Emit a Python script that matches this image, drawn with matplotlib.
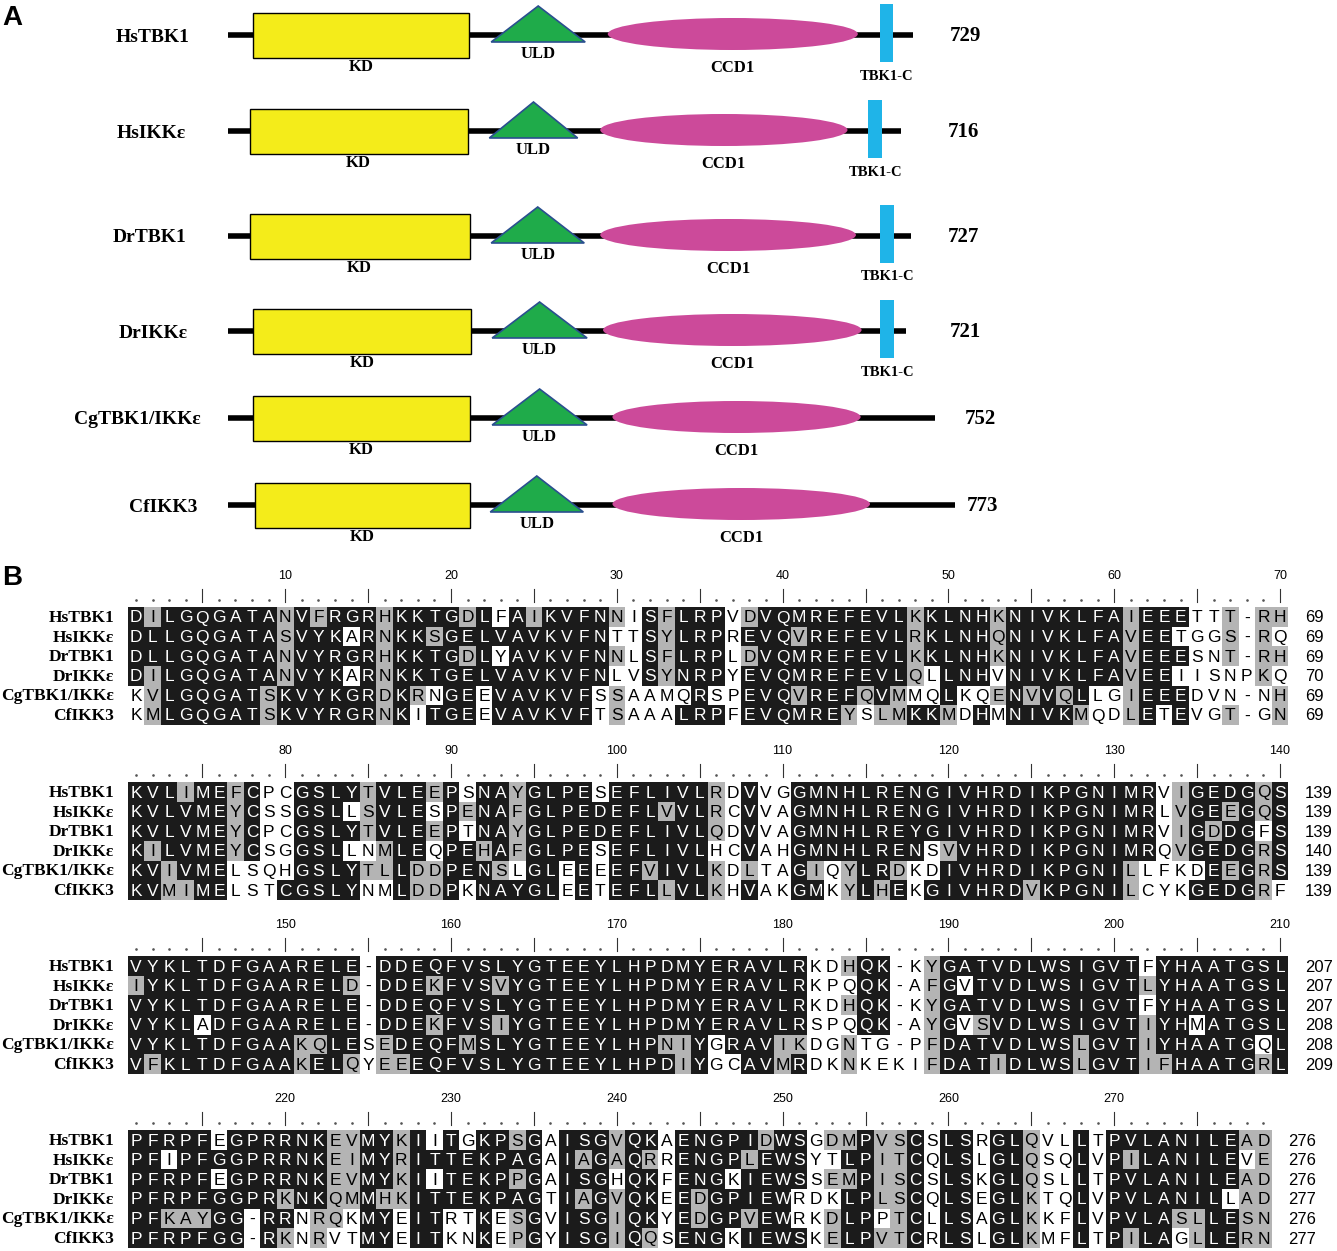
import matplotlib
matplotlib.use("Agg")
import matplotlib.pyplot as plt
from matplotlib.patches import Rectangle, Ellipse, Polygon

W, H = 1337, 1251

# ---------------- panel A : domain structure (residue positions) ----------------
proteins = ["HsTBK1", "HsIKKε", "DrTBK1", "DrIKKε", "CgTBK1/IKKε", "CfIKK3"]
lengths = [729, 716, 727, 721, 752, 773]
kd = [(27, 256), (23, 255), (23, 257), (27, 259), (27, 257), (29, 257)]
uld = [(280, 380), (278, 372), (280, 379), (281, 382), (281, 382), (279, 378)]
ccd1 = [(404, 670), (396, 659), (396, 668), (399, 674), (409, 673), (409, 683)]
tbk1c = [(694, 707), (681, 696), (694, 709), (694, 709), None, None]

# ---------------- panel B : alignment ----------------
seq_names = ["HsTBK1", "HsIKKε", "DrTBK1", "DrIKKε", "CgTBK1/IKKε", "CfIKK3"]
block_starts = [1, 71, 141, 211]

seq1 = ["DILGQGATANVFRGRHKKTGDLFAIKVFNNISFLRPVDVQMREFEVLKKLNHKNIVKLFAIEEETTT-RH",
        "DLLGQGATASVYKARNKKSGELVAVKVFNTTSYLRPREVQVREFEVLRKLNHQNIVKLFAVEETGGS-RQ",
        "DLLGQGATANVYRGRHKKTGDLYAVKVFNNLSFLRPLDVQMREFEVLKKLNHKNIVKLFAVEEESNT-RH",
        "DILGQGATANVYKARNKKTGELVAVKVFNLVSYNRPYEVQMREFEVLQLLNHVNIVKLFAVEEIISNPKQ",
        "KVLGQGATSKVYKGRDKRNGEEVAVKVFSSAAMQRSPEVQVREFQVMMQLKQENVVQLLGIEEEDVN-NH",
        "KMLGQGATSKVYRGRNKITGEEVAVKVFTSAAALRPFEVQMREYSLMKKMDHMNIVKMQDLETEVGT-GN"]
seq2 = ["KVLIMEFCPCGSLYTVLEEPSNAYGLPESEFLIVLRDVVGGMNHLRENGIVHRDIKPGNIMRVIGEDGQS",
        "KVLVMEYCSSGSLLSVLESPENAFGLPEDEFLVVLRCVVAGMNHLRENGIVHRDIKPGNIMRLVGEEGQS",
        "KVLVMEYCPCGSLYTVLEEPTNAYGLPEDEFLIVLQDVVAGMNHLREYGIVHRDIKPGNIMRVIGDDGFS",
        "KILVMEYCSGGSLLNMLEQPEHAFGLPESEFLIVLHCVAHGMNHLRENSVVHRDIKPGNIMRQVGEDGRS",
        "KVIVMELSQHGSLYTLLDDPENSLGLEEEEFVIVLKDLTAGIQYLRDKDIVHRDIKPGNILLFKDEEGRS",
        "KVMIMELSTCGSLYNMLDDPKNAYGLEETEFLLVLKHVAKGMKYLHEKGIVHRDVKPGNILCYKGEDGRF"]
seq3 = ["VYKLTDFGAARELE-DDEQFVSLYGTEEYLHPDMYERAVLRKDHQK-KYGATVDLWSIGVTFYHAATGSL",
        "IYKLTDFGAARELD-DDEKFVSVYGTEEYLHPDMYERAVLRKPQQK-AFGVTVDLWSIGVTLYHAATGSL",
        "VYKLTDFGAARELE-DDEQFVSLYGTEEYLHPDMYERAVLRKDHQK-KYGATVDLWSIGVTFYHAATGSL",
        "VYKLADFGAARELE-DDEKFVSIYGTEEYLHPDMYERAVLRSPQQK-AYGVSVDLWSIGVTIYHMATGSL",
        "VYKLTDFGAAKQLESEDEQFMSLYGTEEYLHPNIYGRAVIKDGNTG-PFDATVDLWSLGVTIYHAATGQL",
        "VFKLTDFGAAKELQYEEEQFVSLYGTEEYLHPDIYGCAVMRDKNKEKIFDATIDLWSLGVTIFHAATGRL"]
seq4 = ["PFRPFEGPRRNKEVMYKIITGKPSGAISGVQKAENGPIDWSGDMPVSCSLSRGLQVLLTPVLANILEAD",
        "PFIPFGGPRRNKEIMYRITTEKPAGAIAGAQRRENGPLEWSYTLPITCQLSLGLQSQLVPILANILEVE",
        "PFRPFEGPRRNKEVMYKIITEKPPGAISGHQKFENGKIEWSSEMPISCSLSKGLQSLLTPVLANILEAD",
        "PFRPFGGPRKNKQMMHKITTEKPAGTIAGVQKEEDGPIEWRDKLPLSCQLSEGLKTQLVPVLANILLAD",
        "PFKAYGG-RRNRQKMYEITRTKESGVISGIQKYEDGPVEWRKDLPPTCLLSAGLKKFLVPVLASLLESN",
        "PFRPFGG-RKNRVTMYEITKNKEPGYISGIQQSENGKIEWSKELPVTCRLSLGLKMFLTPILAGLLERN"]

# B = identical (black), G = similar (grey), W = unshaded
shade1 = ["BGBBBBBBBGBGBBBGBBBBGBWBGBBBBGWBGBBBWGBBBBBBBBBGBBBBGBBBBBBBGBBBWWGWGG",
          "BBBBBBBBBGBBBWBGBBGBBBBBBBBBBWWBGBBBWBBBGBBBBBBGBBBBGBBBBBBBGBBWWWGWGW",
          "BBBBBBBBBGBBBBBGBBBBGBWBBBBBBGWBGBBBWGBBBBBBBBBGBBBBGBBBBBBBGBBBWWGWGG",
          "BGBBBBBBBGBBBWBGBBBBBBBBBBBBBWWBGBBBWBBBBBBBBBBGWBBBWBBBBBBBGBBWWWWWGW",
          "WGBBBBBBGBBBBBBGBGWBBWBBBBBBWGWWWWBWWBBBGBBBGBGWWBWWGBGBGBWWGBBBWWWWWG",
          "WGBBBBBBGBBBBBBGBWBBBWBBBBBBWGWWWBBBWBBBBBBGWGGBBGWBWBBBBGWWGBWBWWGWWG"]
shade2 = ["BBBGBBGBWWBBBBGBBBGBWBBGBBBBWBBBBBBGWBWWBBBBBBBBBBBBBBBBBBBBBBWGBBBBGB",
          "BBBBBBGBWWBBBWGBBBWBGBBGBBBBBBBBGBBGWBWWBBBBBBBBBBBBBBBBBBBBBBWGBBGBGB",
          "BBBBBBGBWWBBBBGBBBGBWBBGBBBBBBBBBBBGWBWWBBBBBBBBBBBBBBBBBBBBBBWGBGBBWB",
          "BGBBBBGBWWBBBWWGBBWBBGBGBBBBWBBBBBBWWBWWBBBBBBBBWGBBBBBBBBBBBBWGBBBBGB",
          "BBGBBBWWWWBBBBGGBGGBBBGWBBWBWBBGBBBGWGWWBGWGBBGWWBBBBBBBBBBBGWWWWBGBGB",
          "BBGGBBWWWBBBBBWWBGGBWBBBBBWBWBBBGBBGWBWWBBWGBGBWBBBBBBGBBBBBGWWWBBBBGW"]
shade3 = ["BBBBBBBBBBBBBBWBBBBBBBBBBBBBBBBBBBBBBBBBBWWGBBWWGBBBBBBBBBBBBWBBBBBBBB",
          "GBBBBBBBBBBBBGWBBBGBBBGBBBBBBBBBBBBBBBBBBWWWBBWWGBWBBBBBBBBBBGBBBBBBBB",
          "BBBBBBBBBBBBBBWBBBBBBBBBBBBBBBBBBBBBBBBBBWWGBBWWGBBBBBBBBBBBBWBBBBBBBB",
          "BBBBWBBBBBBBBBWBBBGBBBGBBBBBBBBBBBBBBBBBBWWWBBWWGBWGBBBBBBBBBGBBWBBBBB",
          "BBBBBBBBBBGGBBWGBBBBGBBBBBBBBBBBGGBWBBBGGWWGWWWWGBBBBBBBBGBBBGBBBBBBWB",
          "BGBBBBBBBBGBBGWGGBBBBBBBBBBBBBBBBGBWWBBGBWWGWWWWGBBBGBBBBGBBBGGBBBBBGB"]
shade4 = ["BBBBBWBBBBBBGGBBGBWBWBBGBWBBBGBBWBBBBBGBBWGGBGGBWBBWBBGWWBWBBBBBBBBGG",
          "BBWBBBBBBBBBGGBBGBBBBBBBBWBGBGBGWBBBBGBBBWWBBGGBWBBWBBGWWBWBGBBBBBBWG",
          "BBBBBWBBBBBBGGBBGBWBBBBGBWBBBWBBWBBBWBBBBWGGBGGBWBBWBBGWWBWBBBBBBBBGG",
          "BBBBBBBBBGBBGGBGGBBBBBBBBWBGBGBBWBGBBBBBWWWBBGGBWBBWBBGWWBWBBBBBBBWGG",
          "BBGGGBBWBBWGGWBBWBBWWBWGBWBBBGBBWBGBBGBBWWGBBWGBWBBWBBGWWBWBBBBGGBBGG",
          "BBBBBBBWBGWGWWBBWBBWWBWGBWBBBGBGWBBBWBBBBWGBBGGBWBBWBBGWWBWBGBBWGBBGG"]

ends1 = [69, 69, 69, 70, 69, 69]
ends2 = [139, 139, 139, 140, 139, 139]
ends3 = [207, 207, 207, 208, 208, 209]
ends4 = [276, 276, 276, 277, 276, 277]

seq_blocks = [seq1, seq2, seq3, seq4]
shade_blocks = [shade1, shade2, shade3, shade4]
end_blocks = [ends1, ends2, ends3, ends4]

# ---------------- figure ----------------
fig = plt.figure(figsize=(W / 100, H / 100), dpi=100)
serif = "Liberation Serif"
sans = "Liberation Sans"

# panel A axes: x in residues, y in pixels
x0_px, px_per_aa = 228, 0.94
axA = fig.add_axes([0, 0, 1, 1])
axA.set_xlim(-x0_px / px_per_aa, (W - x0_px) / px_per_aa)
axA.set_ylim(H, 0)
axA.axis("off")


def px2aa(px):
    return (px - x0_px) / px_per_aa


row_y = [35, 131, 236, 331, 418, 505]
name_x = [153, 151, 150, 153, 137, 163]
num_x = [965, 963, 963, 965, 980, 983]
yellow, green, magenta, cyan = "#f4ec1a", "#1fab4a", "#cc4a9a", "#1fb4e8"

for i, p in enumerate(proteins):
    y = row_y[i]
    axA.plot([0, lengths[i]], [y, y], color="black", lw=4, solid_capstyle="butt", zorder=1)
    s, e = kd[i]
    axA.add_patch(Rectangle((s, y - 22), e - s, 45, facecolor=yellow, edgecolor="black", lw=1, zorder=2))
    axA.text((s + e) / 2, y + 32, "KD", family=serif, weight="bold", fontsize=12, ha="center", va="center")
    s, e = uld[i]
    axA.add_patch(Polygon([(s, y + 7), (e, y + 7), ((s + e) / 2, y - 29)], closed=True,
                          facecolor=green, edgecolor="#2a4f8f", lw=1.2, zorder=3))
    axA.text((s + e) / 2, y + 19, "ULD", family=serif, weight="bold", fontsize=12, ha="center", va="center")
    s, e = ccd1[i]
    axA.add_patch(Ellipse(((s + e) / 2, y - 1), e - s, 32, facecolor=magenta, edgecolor="none", zorder=2))
    axA.text((s + e) / 2, y + 33, "CCD1", family=serif, weight="bold", fontsize=12, ha="center", va="center")
    if tbk1c[i] is not None:
        s, e = tbk1c[i]
        axA.add_patch(Rectangle((s, y - 31), e - s, 58, facecolor=cyan, edgecolor="none", zorder=3))
        axA.text((s + e) / 2, y + 41, "TBK1-C", family=serif, weight="bold", fontsize=10.5,
                 ha="center", va="center")
    axA.text(px2aa(name_x[i]), y + 2, p, family=serif, weight="bold", fontsize=14, ha="center", va="center")
    axA.text(px2aa(num_x[i]), y + 1, str(lengths[i]), family=serif, weight="bold", fontsize=15,
             ha="center", va="center")

# panel B axes: x in alignment columns, y in pixels
col1_px, col_w = 136, 16.58
axB = fig.add_axes([0, 0, 1, 1])
axB.set_xlim(1 - col1_px / col_w, 1 + (W - col1_px) / col_w)
axB.set_ylim(H, 0)
axB.axis("off")
axB.patch.set_alpha(0)


def px2col(px):
    return 1 + (px - col1_px) / col_w


block_y = [617, 792, 966, 1140]
row_h = 19.6
fills = {"B": "#1b1b1b", "G": "#b4b4b4", "W": "white"}

for b in range(4):
    y0 = block_y[b]
    ncol = len(seq_blocks[b][0])
    # ruler
    for k in range(1, ncol + 1):
        pos = block_starts[b] + k - 1
        if pos % 5 == 0:
            axB.plot([k, k], [y0 - 28, y0 - 15], color="#333333", lw=0.8)
            if pos % 10 == 0:
                axB.text(k, y0 - 41, str(pos), family=sans, fontsize=9, ha="center", va="center")
        else:
            axB.plot(k, y0 - 17, marker="o", ms=0.9, color="#555555")
    for r in range(6):
        y = y0 + r * row_h
        seq = seq_blocks[b][r]
        shd = shade_blocks[b][r]
        for k, (aa, sh) in enumerate(zip(seq, shd), start=1):
            if sh != "W":
                axB.add_patch(Rectangle((k - 0.5, y - row_h / 2), 1.0, row_h,
                                        facecolor=fills[sh], edgecolor="none"))
            axB.text(k, y + 1, aa, family=sans, fontsize=12.5, ha="center", va="center",
                     color="white" if sh == "B" else "black")
        axB.text(px2col(114), y + 1, seq_names[r], family=serif, weight="bold", fontsize=12.5,
                 ha="right", va="center")
        axB.text(ncol + 1.5, y + 1, str(end_blocks[b][r]), family=sans, fontsize=12,
                 ha="left", va="center")

fig.text(2 / W, 1 - 18 / H, "A", family=sans, weight="bold", fontsize=20, ha="left", va="center")
fig.text(2 / W, 1 - 578 / H, "B", family=sans, weight="bold", fontsize=20, ha="left", va="center")

fig.savefig("out.png", dpi=100)
